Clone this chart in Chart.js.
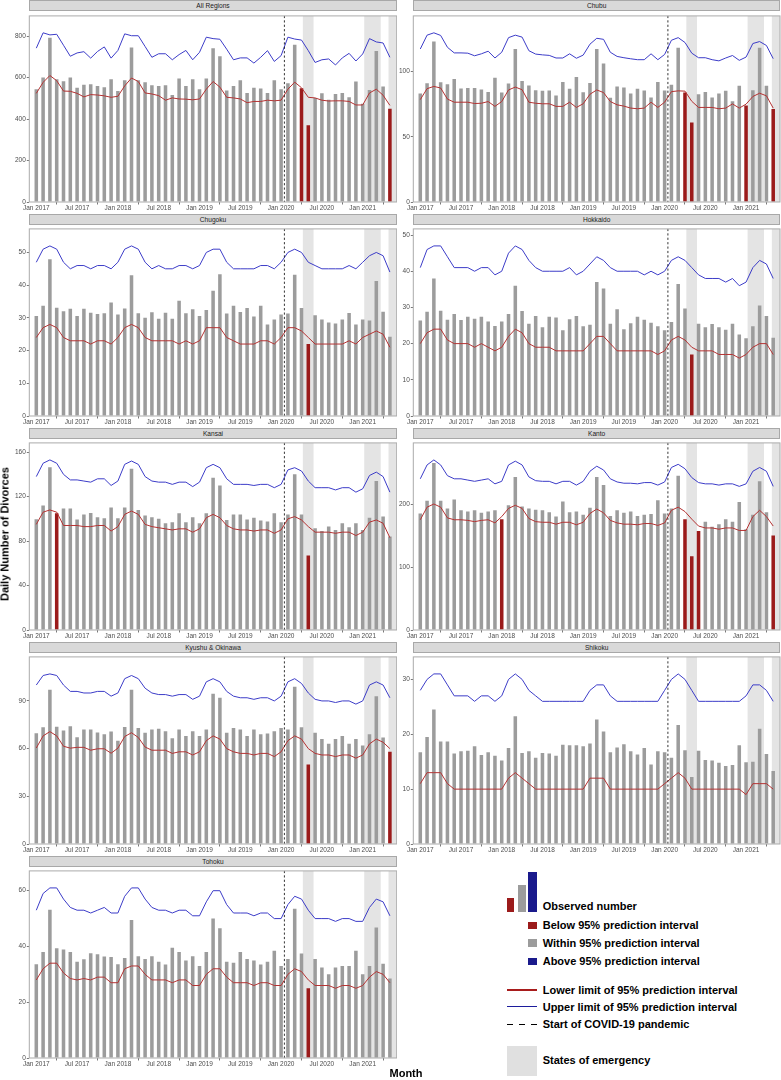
<!DOCTYPE html>
<html><head><meta charset="utf-8">
<script src="https://cdn.jsdelivr.net/npm/chart.js@4.4.0/dist/chart.umd.min.js"></script>
<style>
html,body{margin:0;padding:0;background:#fff;}
body{width:781px;height:1080px;position:relative;overflow:hidden;font-family:"Liberation Sans",Arial,sans-serif;}
canvas{position:absolute;}
.strip{position:absolute;box-sizing:border-box;background:#d9d9d9;border:1px solid #a8a8a8;font-size:6.6px;color:#1a1a1a;text-align:center;line-height:9px;height:11px;white-space:nowrap;}
.lg{position:absolute;}
.lt{position:absolute;font-weight:bold;font-size:11px;line-height:13px;color:#000;white-space:nowrap;}
</style></head>
<body>
<script>
// ---------- DATA ----------
const regions = ['All Regions','Chubu','Chugoku','Hokkaido','Kansai','Kanto','Kyushu & Okinawa','Shikoku','Tohoku'];
const tickLabels = ['Jan 2017','Jul 2017','Jan 2018','Jul 2018','Jan 2019','Jul 2019','Jan 2020','Jul 2020','Jan 2021'];
const tickMonths = [0,6,12,18,24,30,36,42,48];
const emergencyPeriods = [['2020-04-07','2020-05-25'],['2021-01-08','2021-03-21'],['2021-04-25','2021-06-20']];
const pandemicStart = '2020-01-16';

const allTicks = [0,200,400,600,800];
const chubuTicks = [0,50,100];
const chugokuTicks = [0,10,20,30,40,50];
const hokkaidoTicks = [0,10,20,30,40,50];
const kansaiTicks = [0,40,80,120,160];
const kantoTicks = [0,100,200];
const kyushuTicks = [0,30,60,90];
const shikokuTicks = [0,10,20,30];
const tohokuTicks = [0,20,40,60];

const allObs = [544,601,792,592,582,601,551,565,568,559,554,592, 535,587,745,587,577,563,559,563,516,596,560,592, 544,596,742,703,538,559,587,526,551,548,526,587, 544,573,758,549,370,502,524,493,521,526,505,581, 474,540,728,557,450];
const allUp  = [742,816,806,809,756,703,719,725,694,726,748,694, 731,811,802,802,750,698,715,715,686,711,731,686, 722,795,788,785,737,686,695,695,670,698,730,678, 706,795,786,781,730,673,686,690,661,695,717,680, 714,788,772,767,698];
const allLow = [524,577,610,585,535,534,524,507,518,516,512,505, 510,560,598,581,526,521,513,491,502,497,496,493, 497,544,581,554,505,502,497,479,485,485,491,488, 491,544,578,551,505,502,491,487,488,488,485,468, 468,526,544,515,466];

const chubuObs = [83.1,91.1,123,91.8,90.3,94.3,87.1,87.4,87.4,86.3,84.4,95.3, 83.9,90.8,117.3,92.8,89.3,85.6,85.2,85.4,81.7,92,86.9,95.8, 84.1,91.3,117.3,106.2,80,88.6,87.8,83.1,86.9,85.4,80.2,92, 85.4,89.8,118.3,83.9,60.9,82.6,84.4,80.2,83.1,85.2,77.2,89.1, 74,85.6,118.3,89.1,71.3];
const chubuUp  = [117.3,127.9,129.7,127.7,118.6,114.3,114.3,114.1,112.1,113.6,115.6,110.4, 114.8,126,127.9,126.4,116,113.4,112.8,112.4,110.4,110.4,113.6,110.2, 112.6,121,125.5,124.7,114.8,111.6,110.6,109.8,109.1,109.1,113.6,109.1, 113.1,124,126,122.3,114.1,110.6,110.6,109.1,108.2,110.4,112.3,108.6, 111.1,121.5,123,120,109.9];
const chubuLow = [78.5,86.9,88.6,87.4,78.9,76.5,76.5,76.5,75.5,75.7,77,73.3, 77,85.9,88.1,86.1,76.5,75.7,75.3,75.3,73.3,73.3,76.5,72.5, 75.3,82.6,85.9,83.9,77,74.5,73.5,72,71.5,72,76.5,72.5, 76.5,84.6,85.2,85,77.2,72.5,72.5,72.5,71.5,72,75.2,72, 75,80.9,83.4,81.4,72];

const chugokuObs = [30.6,33.7,47.9,33.1,32,32.8,30.6,32.8,31.6,31.2,31.4,34.7, 31,32.9,43,31.4,30,31.7,29.7,31.6,29.7,35.2,31.4,32.6, 30.6,32.4,38.3,43.3,31.3,33.7,31.8,33,30.4,33.7,28,29.5, 31,31.3,43.2,33,22,30.8,29.5,28.6,28.3,29.5,31.5,28, 29.5,29.2,41.3,31.9,24.2];
const chugokuUp  = [47,51,52,51,47,45,46,46,45,46,46,45, 47,51,52,51,47,45,46,45,45,46,46,45, 46,50,51,51,47,45,45,45,45,46,46,45, 47,50,51,50,47,46,45,45,45,45,46,45, 47,49,50,49,44];
const chugokuLow = [24,27,28,27,24,23,23,23,22,23,23,22, 24,27,28,27,24,23,23,23,23,22,23,22, 23,27,27,27,24,23,22,22,22,23,23,22, 24,27,27,26,24,22,22,22,22,22,23,22, 24,25,26,25,21];

const hokkaidoObs = [26.4,28.8,38,29.1,26.6,28.2,26.5,27.4,26.9,27.4,26.1,24.9, 26.1,28.2,36,29,25.5,27.6,24.5,27.4,27.2,23.7,26.7,27.6, 24.8,25.2,37,35.2,25.5,29.5,24,25.6,27.4,26.6,25.8,24.8, 23.7,26,36.5,29.7,17,25.5,24.5,25.4,24.5,23.8,25.5,22.5, 21.5,24.8,30.5,27.6,21.6];
const hokkaidoUp  = [41,46,47,47,44,41,41,41,40,41,41,39, 40,45,47,46,43,41,40,40,40,40,41,39, 40,42,44,43,41,40,40,40,40,39,40,39, 40,43,44,43,41,39,38,38,38,37,38,36, 37,41,43,42,38];
const hokkaidoLow = [20,23,24,24,21,20,20,20,19,20,19,18, 19,22,24,23,20,19,19,19,18,18,18,18, 18,20,22,22,20,18,18,18,18,18,18,17, 18,21,22,21,19,18,18,18,17,17,17,16, 17,19,20,20,17];

const kansaiObs = [99.7,112,146.5,105,109.4,109.4,99.4,103.8,105.3,101.5,100.6,110.3, 100.6,110.3,145,108,103,101.5,100,96,97,105,97,101.5, 96,105,137,130,99,104,104,99.5,101,98.5,97.5,105, 97,104,140,104,67,91.5,89,93,90,96,92.5,96, 90,101,134,102,84];
const kansaiUp  = [138,150,153,150,140,135,135,134,133,136,136,130, 134,149,152,149,138,134,133,133,131,133,133,129, 133,146,149,146,136,131,131,131,130,131,131,128, 131,144,146,143,134,128,128,128,126,128,128,124, 127,139,142,138,124];
const kansaiLow = [95,106,108,106,94,94,94,93,93,94,94,89, 93,104,107,104,95,93,92,91,90,91,91,88, 91,101,104,101,94,91,90,90,89,90,90,87, 90,100,102,99,93,88,88,88,87,88,88,85, 88,97,99,96,83];

const kantoObs = [185,205,265,205,193,207,190,188,190,186,188,190, 176,198,243,196,193,191,190,187,180,204,187,188, 183,194,243,230,181,190,186,188,181,183,184,206, 185,193,245,176,117,157,172,164,168,176,172,203, 160,183,236,187,150];
const kantoUp  = [240,262,270,262,245,240,240,238,236,238,240,232, 236,262,268,262,243,237,236,236,232,236,236,230, 236,252,260,254,240,235,233,233,232,234,234,230, 235,258,263,256,242,234,232,232,230,232,232,228, 232,252,258,252,228];
const kantoLow = [175,195,200,195,178,175,175,174,172,174,175,170, 180,193,198,193,177,172,171,171,168,171,171,167, 171,185,192,186,174,170,168,168,167,169,169,166, 170,190,195,188,176,165,162,162,160,162,162,158, 158,180,190,180,165];

const kyushuObs = [69.7,73.4,97,73.8,71.4,74,67.2,72,72,70.1,69.1,70.7, 64.9,73.6,97,73,70,72,72.5,71,66.5,72,68,71, 68,72,94.5,92,70,73,72,68,72,69,69.5,71, 73,72,99,73.5,50,70,66,63,66,68,63,66, 62,69,93,67,58];
const kyushuUp  = [100,106,107,106,100,96,96,95,95,96,96,93, 95,104,106,104,98,95,94,94,93,94,94,91, 93,102,104,102,96,93,92,92,91,92,92,90, 93,102,104,101,95,91,90,90,89,90,90,88, 90,100,102,100,92];
const kyushuLow = [60.4,68,70.7,68,61.5,60.3,60.8,60.8,59,59.9,59.9,57.1, 60.3,67.6,70,67,61,59,59,59,57,58,58,56, 58,65,68,66,60,58,57,57,56,57,57,55, 58,65,68,66,60,57,56,56,55,56,56,54, 56,63,66,64,60];

const shikokuObs = [16.7,19.5,24.5,18.7,18.7,16.5,16.9,17,17.8,16.2,16.7,16.1, 15.2,17.5,23.3,16.6,16.9,15.7,16.6,16.5,16.1,18.1,18,18, 17.8,18.3,22.7,20.5,16.7,17.6,18.2,16.9,16.3,17.5,14.5,16.9, 16.7,15.7,21.7,17.1,12.2,17,15.3,15.2,14.8,14.2,14.4,18, 14.9,15,21,16.4,13.3];
const shikokuUp  = [28,30,31,31,29,27,27,27,26,27,27,26, 27,30,31,30,28,27,26,26,26,26,26,26, 26,28,29,29,27,26,26,26,26,26,26,26, 28,30,31,30,28,26,26,26,26,26,26,26, 27,29,29,28,26];
const shikokuLow = [11,13,13,13,11,10,10,10,10,10,10,10, 10,12,13,12,11,10,10,10,10,10,10,10, 10,12,12,12,10,10,10,10,10,10,10,10, 11,12,13,12,10,10,10,10,10,10,10,10, 9,11,11,11,10];

const tohokuObs = [33.6,38,53.2,39.4,38.9,38,34.5,35.4,37.6,37.2,36.4,36.2, 33.6,35.9,49.5,36.5,35.5,36.5,34.5,33.5,39.5,38,35,36.5, 33,38,50,46.5,34.5,34.2,38,35.5,35,33.5,34.5,38.5, 33,35.5,53.5,37.5,25,35.5,32.5,30,32.5,33,33,38.5, 30,33,46.8,33.8,28.5];
const tohokuUp  = [53,59,61,61,57,54,53,53,52,53,54,52, 52,58,61,61,57,54,53,53,52,53,53,51, 51,56,60,60,55,52,52,52,51,52,52,50, 50,55,58,57,53,50,50,50,49,50,50,49, 49,54,57,56,51];
const tohokuLow = [28,32,34,34,30.5,28.5,28,28.5,28,29,29,27, 27,32,33,33,30,28,28,28,27,28,28,26, 26,30,32,32,29,27,27,27,26,27,27,26, 26,30,32,31,28,26,26,26,25,26,26,25, 26,29,31,30,27];

// ---------- BUILD ----------
const series = [
  [allObs,allLow,allUp,allTicks],[chubuObs,chubuLow,chubuUp,chubuTicks],[chugokuObs,chugokuLow,chugokuUp,chugokuTicks],
  [hokkaidoObs,hokkaidoLow,hokkaidoUp,hokkaidoTicks],[kansaiObs,kansaiLow,kansaiUp,kansaiTicks],[kantoObs,kantoLow,kantoUp,kantoTicks],
  [kyushuObs,kyushuLow,kyushuUp,kyushuTicks],[shikokuObs,shikokuLow,shikokuUp,shikokuTicks],[tohokuObs,tohokuLow,tohokuUp,tohokuTicks]
];
const COLORS = {below:'#9b1b1b', within:'#9c9c9c', above:'#1a1a8c', low:'#b43232', up:'#3c3cc8'};

function dateToIndex(s){
  const [y,m,d] = s.split('-').map(Number);
  const dim = new Date(y, m, 0).getDate();
  return (y-2017)*12 + (m-1) + (d-1)/dim;
}
const shadeIdx = emergencyPeriods.map(p => [dateToIndex(p[0]), dateToIndex(p[1])]);
const covidIdx = dateToIndex(pandemicStart);

const ROW_TOP = [11, 224.9, 438.8, 652.7, 866.6];
const PLOT_H = 190.5;
const COLS = [{left:0, width:397, axisW:29.3, padR:0.3}, {left:397, width:384, axisW:16.3, padR:1}];
const X_AXIS_H = 14;

const deco = {
  id:'deco',
  beforeDatasetsDraw(chart){
    const {ctx, chartArea:a, scales:{x}} = chart;
    ctx.save();
    ctx.beginPath(); ctx.rect(a.left, a.top, a.right-a.left, a.bottom-a.top); ctx.clip();
    ctx.fillStyle = '#e4e4e4';
    shadeIdx.forEach(([s,e]) => {
      const x0 = x.getPixelForValue(s), x1 = x.getPixelForValue(e);
      ctx.fillRect(x0, a.top, x1-x0, a.bottom-a.top);
    });
    ctx.restore();
  },
  afterDatasetsDraw(chart){
    const {ctx, chartArea:a, scales:{x}} = chart;
    const px = x.getPixelForValue(covidIdx);
    ctx.save();
    ctx.strokeStyle = '#000'; ctx.lineWidth = 0.8; ctx.setLineDash([2.2,2.2]);
    ctx.beginPath(); ctx.moveTo(px, a.top); ctx.lineTo(px, a.bottom); ctx.stroke();
    ctx.setLineDash([]);
    ctx.strokeStyle = '#ababab'; ctx.lineWidth = 1;
    ctx.strokeRect(a.left, a.top, a.right-a.left, a.bottom-a.top);
    ctx.restore();
  }
};

regions.forEach((name, k) => {
  const row = Math.floor(k/2), col = k%2;
  const C = COLS[col];
  const T = ROW_TOP[row];
  const top = Math.floor(T), padT = T - top;
  const H = Math.ceil(padT + PLOT_H + X_AXIS_H);
  const cv = document.createElement('canvas');
  cv.width = C.width; cv.height = H;
  cv.style.left = C.left + 'px'; cv.style.top = top + 'px';
  cv.style.width = C.width + 'px'; cv.style.height = H + 'px';
  document.body.appendChild(cv);

  const strip = document.createElement('div');
  strip.className = 'strip';
  strip.textContent = name;
  strip.style.left = (C.left + C.axisW) + 'px';
  strip.style.width = (C.width - C.axisW - C.padR) + 'px';
  strip.style.top = (T - 11) + 'px';
  document.body.appendChild(strip);

  const [obs, low, up, yTicks] = series[k];
  const ymax = 1.1 * Math.max(...obs, ...low, ...up);
  const barColors = obs.map((v,i) => v < low[i] ? COLORS.below : (v > up[i] ? COLORS.above : COLORS.within));

  new Chart(cv, {
    type:'bar',
    data:{datasets:[
      {type:'line', data: up.map((v,i)=>({x:i,y:v})), borderColor:COLORS.up, borderWidth:1, pointRadius:0, tension:0, fill:false, order:1},
      {type:'line', data: low.map((v,i)=>({x:i,y:v})), borderColor:COLORS.low, borderWidth:1, pointRadius:0, tension:0, fill:false, order:2},
      {type:'bar', data: obs.map((v,i)=>({x:i,y:v})), backgroundColor:barColors, borderWidth:0, barPercentage:0.52, categoryPercentage:1, order:3}
    ]},
    options:{
      responsive:false, maintainAspectRatio:false, animation:false, devicePixelRatio:1,
      layout:{padding:{top:padT, right:C.padR, left:0, bottom:0}},
      plugins:{legend:{display:false}, tooltip:{enabled:false}, title:{display:false}},
      scales:{
        x:{type:'linear', min:-1.03, max:53, offset:false,
           afterBuildTicks: s => { s.ticks = tickMonths.map(v => ({value:v})); },
           afterFit: s => { s.height = X_AXIS_H; },
           ticks:{autoSkip:false, maxRotation:0, minRotation:0, padding:0, color:'#4d4d4d',
                  font:{family:'"Liberation Sans", Arial, sans-serif', size:6.5},
                  callback: v => tickLabels[tickMonths.indexOf(v)]},
           grid:{drawOnChartArea:false, drawTicks:true, tickLength:2.5, color:'#555', lineWidth:0.8},
           border:{display:false}},
        y:{type:'linear', min:0, max:ymax,
           afterBuildTicks: s => { s.ticks = yTicks.map(v => ({value:v})); },
           afterFit: s => { s.width = C.axisW; },
           ticks:{autoSkip:false, padding:1, color:'#4d4d4d',
                  font:{family:'"Liberation Sans", Arial, sans-serif', size:6.5},
                  callback: v => String(v)},
           grid:{drawOnChartArea:false, drawTicks:true, tickLength:2.5, color:'#555', lineWidth:0.8},
           border:{display:false}}
      }
    },
    plugins:[deco]
  });
});

// ---------- LEGEND & TITLES ----------
function box(l,t,w,h,bg){const d=document.createElement('div');d.className='lg';Object.assign(d.style,{left:l+'px',top:t+'px',width:w+'px',height:h+'px',background:bg});document.body.appendChild(d);return d;}
function txt(l,cy,s){const d=document.createElement('div');d.className='lt';d.textContent=s;d.style.left=l+'px';d.style.top=(cy-6.5)+'px';document.body.appendChild(d);return d;}
box(506.7,898.3,7.6,13.4,COLORS.below);
box(517.7,885,8,26.7,COLORS.within);
box(528.3,872,8.4,39.7,COLORS.above);
txt(542.7,906.5,'Observed number');
box(528.3,921.7,8.4,7.6,COLORS.below); txt(542.7,925.5,'Below 95% prediction interval');
box(528.3,939.3,8.4,7.6,COLORS.within); txt(542.7,943,'Within 95% prediction interval');
box(528.3,957.7,8.4,7.6,COLORS.above); txt(542.7,961.5,'Above 95% prediction interval');
box(506.7,989.3,30,1.4,'#a81c1c'); txt(542.7,990,'Lower limit of 95% prediction interval');
box(506.7,1006,30,1.4,'#1c1c9c'); txt(542.7,1007,'Upper limit of 95% prediction interval');
const dl = box(506.7,1023.6,30,1.4,'transparent');
dl.style.backgroundImage='repeating-linear-gradient(90deg,#000 0 6px,transparent 6px 12px)';
txt(542.7,1024.3,'Start of COVID-19 pandemic');
box(506.7,1046,30,29.7,'#e0e0e0'); txt(542.7,1060.7,'States of emergency');

const mt = document.createElement('div'); mt.className='lt'; mt.textContent='Month';
mt.style.left='406px'; mt.style.top='1067px'; mt.style.transform='translateX(-50%)'; document.body.appendChild(mt);
const yt = document.createElement('div'); yt.className='lt'; yt.textContent='Daily Number of Divorces';
yt.style.left='5px'; yt.style.top='534px'; yt.style.transform='translate(-50%,-50%) rotate(-90deg)'; document.body.appendChild(yt);
</script>
</body></html>
